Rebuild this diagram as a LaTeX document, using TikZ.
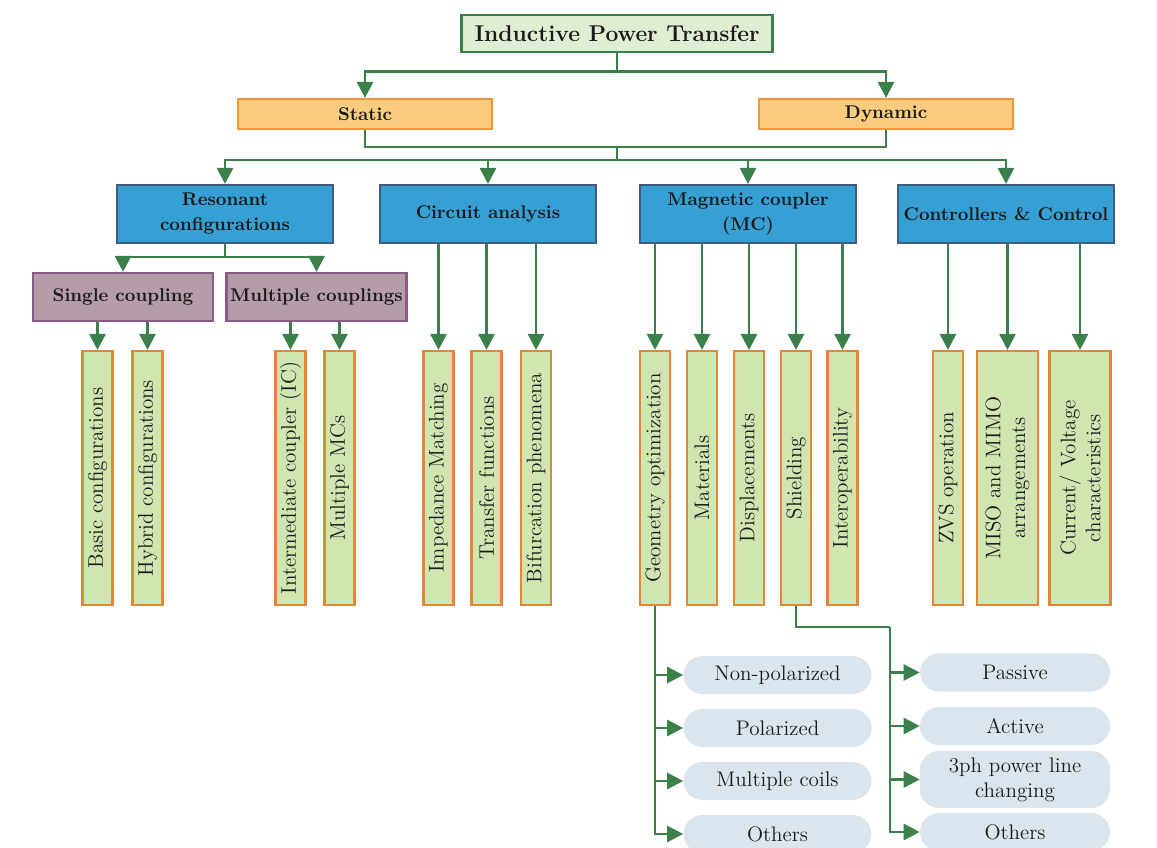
\documentclass[tikz,border=0pt]{standalone}
\usepackage{graphicx}
\usetikzlibrary{arrows.meta}

\definecolor{lineGreen}{HTML}{3B7F4B}
\definecolor{titleFill}{HTML}{DFEDD2}
\definecolor{orangeFill}{HTML}{FBCB7E}
\definecolor{orangeLine}{HTML}{F0943C}
\definecolor{blueFill}{HTML}{36A0D5}
\definecolor{blueLine}{HTML}{3E5B80}
\definecolor{mauveFill}{HTML}{B49CA9}
\definecolor{mauveLine}{HTML}{8B5A88}
\definecolor{leafFill}{HTML}{D1E5B1}
\definecolor{leafLine}{HTML}{E0873A}
\definecolor{pillFill}{HTML}{DBE5ED}
\definecolor{inkText}{HTML}{1A1A1A}

\tikzset{
  wire/.style={draw=lineGreen, line width=1.5pt},
  arr/.style={wire, -{Triangle[length=0.32cm,width=0.32cm]}},
  boxbase/.style={inner sep=0pt, align=center, text=inkText},
  titlebox/.style={boxbase, draw=lineGreen, fill=titleFill, line width=1.5pt,
    minimum width=6.22cm, minimum height=0.74cm,
    font=\fontsize{13}{15}\selectfont\bfseries},
  modebox/.style={boxbase, draw=orangeLine, fill=orangeFill, line width=1.2pt,
    minimum width=5.08cm, minimum height=0.6cm,
    font=\fontsize{10.5}{14.2}\selectfont\bfseries},
  areabox/.style={boxbase, draw=blueLine, fill=blueFill, line width=1.2pt,
    minimum width=4.32cm, minimum height=1.16cm,
    font=\fontsize{10.5}{14.2}\selectfont\bfseries},
  subbox/.style={boxbase, draw=mauveLine, fill=mauveFill, line width=1.2pt,
    minimum width=3.6cm, minimum height=0.96cm,
    font=\fontsize{10.5}{14.2}\selectfont\bfseries},
  leaf/.style={boxbase, draw=leafLine, fill=leafFill, line width=1.2pt, rotate=90,
    minimum width=5.08cm, minimum height=0.6cm,
    font=\fontsize{12}{14.2}\selectfont},
  wideleaf/.style={leaf, minimum height=1.22cm},
  pill/.style={boxbase, fill=pillFill, rounded corners=0.38cm,
    minimum width=3.76cm, minimum height=0.76cm,
    font=\fontsize{12}{14.2}\selectfont},
  pillR/.style={pill, minimum width=3.8cm},
}

\begin{document}
\begin{tikzpicture}[x=0.02cm, y=-0.02cm]
\useasboundingbox (0,0) rectangle (1157,848);
\fill[white] (0,0) rectangle (1157,848);
\clip (0,0) rectangle (1157,848);

% root and the two operating modes
\node[titlebox] (ipt) at (617,33.5) {Inductive Power Transfer};
\node[modebox] (static) at (365,114) {Static};
\node[modebox] (dynamic) at (886,114) {Dynamic};

% research areas
\node[areabox] (reson) at (225,214) {Resonant\\configurations};
\node[areabox] (circ) at (488,214) {Circuit analysis};
\node[areabox] (mag) at (748,214) {Magnetic coupler\\(MC)};
\node[areabox] (ctrl) at (1006,214) {Controllers \& Control};

% coupling types
\node[subbox] (single) at (123,297) {Single coupling};
\node[subbox] (multi) at (316.5,297) {Multiple couplings};

% topics (vertical boxes)
\node[leaf] (basic)   at (97.5,478)  {Basic configurations};
\node[leaf] (hybrid)  at (147.5,478) {Hybrid configurations};
\node[leaf] (interc)  at (290.5,478) {Intermediate coupler (IC)};
\node[leaf] (multmc)  at (339.5,478) {Multiple MCs};
\node[leaf] (imped)   at (438.5,478) {Impedance Matching};
\node[leaf] (transf)  at (486.5,478) {Transfer functions};
\node[leaf] (bifur)   at (536,478)   {Bifurcation phenomena};
\node[leaf] (geom)    at (655,478)   {Geometry optimization};
\node[leaf] (mater)   at (702,478)   {Materials};
\node[leaf] (displ)   at (749,478)   {Displacements};
\node[leaf] (shield)  at (796,478)   {Shielding};
\node[leaf] (interop) at (842.5,478) {Interoperability};
\node[leaf] (zvs)     at (948,478)   {ZVS operation};
\node[wideleaf] (miso) at (1007.5,478) {MISO and MIMO\\arrangements};
\node[wideleaf] (curr) at (1080,478)   {Current/ Voltage\\characteristics};

% geometry sub-topics
\node[pill] (nonpol) at (777.5,675) {Non-polarized};
\node[pill] (polar)  at (777.5,728) {Polarized};
\node[pill] (mcoils) at (777.5,781) {Multiple coils};
\node[pill] (othA)   at (777.5,834) {Others};

% shielding sub-topics
\node[pillR] (passive) at (1015,672.5) {Passive};
\node[pillR] (active)  at (1015,726)   {Active};
\node[pillR, minimum height=1.14cm] (threeph) at (1015,779.5) {3ph power line\\changing};
\node[pillR] (othB)    at (1015,832)   {Others};

% connectors
\draw[arr] (ipt.south) -- ++(0,18) -| (static.north);
\draw[arr] (ipt.south) -- ++(0,18) -| (dynamic.north);
\draw[wire] (static.south) -- ++(0,17) -| (dynamic.south);
\coordinate (hub) at (ipt.south |- 0,146);
\foreach \t in {reson,circ,mag,ctrl}
  \draw[arr] (hub) -- ++(0,14) -| (\t.north);
\draw[arr] (reson.south) -- ++(0,13) -| (single.north);
\draw[arr] (reson.south) -- ++(0,13) -| (multi.north);
\foreach \s/\t in {single/basic, single/hybrid, multi/interc, multi/multmc,
                   circ/imped, circ/transf, circ/bifur,
                   mag/geom, mag/mater, mag/displ, mag/shield, mag/interop,
                   ctrl/zvs, ctrl/miso, ctrl/curr}
  \draw[arr] (\s.south -| \t.east) -- (\t.east);
\foreach \t in {nonpol, polar, mcoils, othA}
  \draw[arr] (geom.west) |- (\t.west);
\coordinate (shturn) at (890,627);
\draw[wire] (shield.west) |- (shturn);
\foreach \t in {passive, active, threeph, othB}
  \draw[arr] (shturn) |- (\t.west);
\end{tikzpicture}
\end{document}
